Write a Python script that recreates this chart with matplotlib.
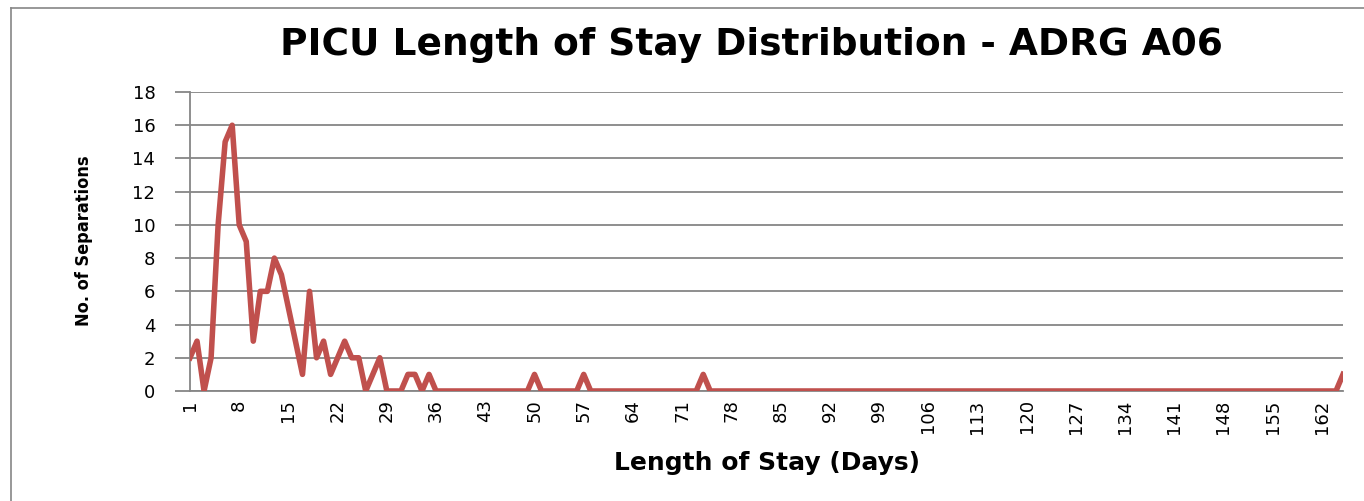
import matplotlib
matplotlib.use("Agg")
import matplotlib.pyplot as plt
from matplotlib.lines import Line2D

# length of stay categories (days) and number of separations
days = list(range(1, 166))
separations = [
    2, 3, 0, 2, 10, 15, 16, 10, 9, 3, 6, 6, 8, 7, 5, 3, 1, 6, 2, 3,
    1, 2, 3, 2, 2, 0, 1, 2, 0, 0, 0, 1, 1, 0, 1, 0, 0, 0, 0, 0,
    0, 0, 0, 0, 0, 0, 0, 0, 0, 1, 0, 0, 0, 0, 0, 0, 1, 0, 0, 0,
    0, 0, 0, 0, 0, 0, 0, 0, 0, 0, 0, 0, 0, 1, 0, 0, 0, 0, 0, 0,
    0, 0, 0, 0, 0, 0, 0, 0, 0, 0, 0, 0, 0, 0, 0, 0, 0, 0, 0, 0,
    0, 0, 0, 0, 0, 0, 0, 0, 0, 0, 0, 0, 0, 0, 0, 0, 0, 0, 0, 0,
    0, 0, 0, 0, 0, 0, 0, 0, 0, 0, 0, 0, 0, 0, 0, 0, 0, 0, 0, 0,
    0, 0, 0, 0, 0, 0, 0, 0, 0, 0, 0, 0, 0, 0, 0, 0, 0, 0, 0, 0,
    0, 0, 0, 0, 1,
]
tick_days = days[::7]
y_ticks = list(range(0, 19, 2))

line_col = '#C0504D'
grid_col = '#868686'

fig = plt.figure(figsize=(13.64, 5.01), dpi=100)
ax = fig.add_axes([190 / 1364, 1 - 391 / 501, (1343 - 190) / 1364, (391 - 92) / 501])

ax.plot(days, separations, color=line_col, lw=4, solid_joinstyle='round', zorder=3)

ax.set_xlim(1, 165)
ax.set_ylim(0, 18)
ax.set_yticks(y_ticks)
ax.set_xticks(tick_days)
ax.set_xticklabels([str(d) for d in tick_days], rotation=90, fontsize=13)
ax.tick_params(axis='x', length=0, pad=6)
ax.tick_params(axis='y', length=11, width=1.3, color=grid_col, pad=14, labelsize=13)
ax.grid(axis='y', color=grid_col, lw=1.3)
ax.set_axisbelow(True)

for s in ['top', 'right']:
    ax.spines[s].set_visible(False)
ax.spines['left'].set_color(grid_col)
ax.spines['left'].set_linewidth(1.3)
ax.spines['bottom'].set_color(grid_col)
ax.spines['bottom'].set_linewidth(1.3)

# titles
fig.text(751 / 1364, 1 - 45 / 501, 'PICU Length of Stay Distribution - ADRG A06',
         ha='center', va='center', fontsize=27, fontweight='bold')
fig.text(767 / 1364, 1 - 463 / 501, 'Length of Stay (Days)',
         ha='center', va='center', fontsize=18, fontweight='bold')
fig.text(84 / 1364, 1 - 241 / 501, 'No. of Separations', rotation=90,
         ha='center', va='center', fontsize=13, fontweight='bold', fontstretch='condensed')

# outer chart frame (cut off at right and bottom)
fig.add_artist(Line2D([11 / 1364, 11 / 1364], [0, 1 - 8 / 501], color=grid_col, lw=1.2,
                      transform=fig.transFigure))
fig.add_artist(Line2D([11 / 1364, 1], [1 - 8 / 501, 1 - 8 / 501], color=grid_col, lw=1.2,
                      transform=fig.transFigure))

fig.savefig('out.png', dpi=100)
